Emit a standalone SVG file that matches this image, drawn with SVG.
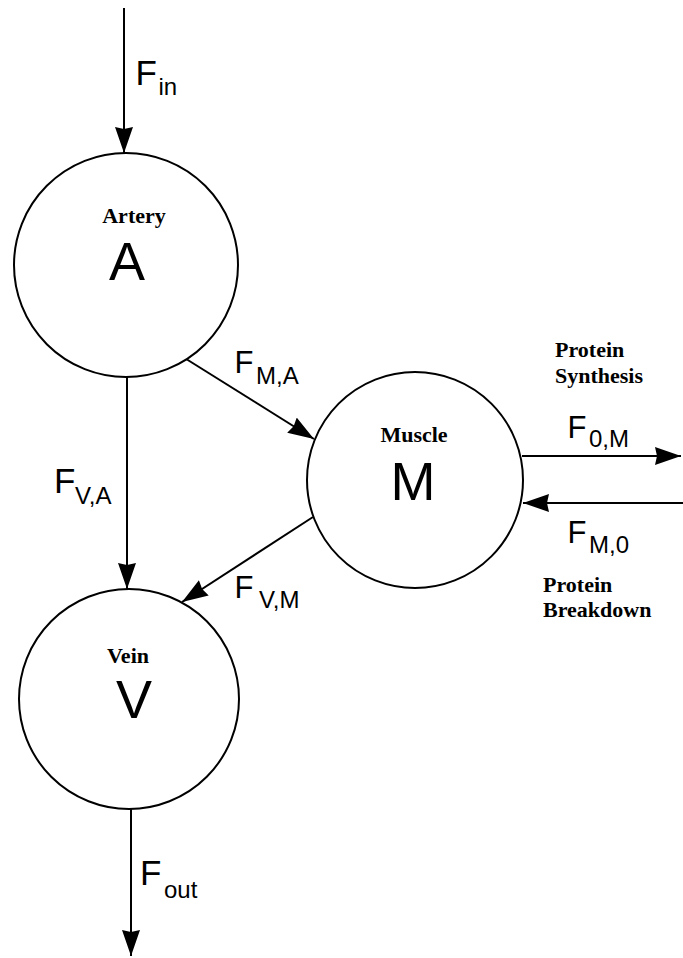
<svg xmlns="http://www.w3.org/2000/svg" width="683" height="958" viewBox="0 0 683 958">
<style>
.node{fill:#fff;stroke:#000;stroke-width:2}
.edge{stroke:#000;stroke-width:2;fill:none}
.name{font-family:"Liberation Serif",serif;font-weight:bold;font-size:22px;text-anchor:middle}
.big{font-family:"Liberation Sans",Arial,sans-serif;font-size:54px;text-anchor:middle}
.f{font-family:"Liberation Sans",Arial,sans-serif;font-size:31px}
.fl{font-family:"Liberation Sans",Arial,sans-serif;font-size:35px}
.sub{font-size:24px}
.note{font-family:"Liberation Serif",serif;font-weight:bold;font-size:22px}
</style>
<defs>
<marker id="arr" markerUnits="userSpaceOnUse" markerWidth="28" markerHeight="20" refX="26" refY="9" orient="auto">
<path d="M0,0 L26,9 L0,18 L2,9 Z" fill="#000"/>
</marker>
</defs>
<rect width="683" height="958" fill="#fff"/>
<g id="connectors">
<line class="edge" x1="124" y1="8" x2="124" y2="153" marker-end="url(#arr)"/>
<line class="edge" x1="127" y1="377" x2="127" y2="589" marker-end="url(#arr)"/>
<line class="edge" x1="183" y1="357" x2="314" y2="439" marker-end="url(#arr)"/>
<line class="edge" x1="313" y1="517" x2="182" y2="602" marker-end="url(#arr)"/>
<line class="edge" x1="522" y1="456" x2="681" y2="456" marker-end="url(#arr)"/>
<line class="edge" x1="683" y1="503" x2="523" y2="503" marker-end="url(#arr)"/>
<line class="edge" x1="131" y1="809" x2="131" y2="956" marker-end="url(#arr)"/>
<text class="fl" x="135.5" y="85">F<tspan class="sub" x="158.5" y="95">in</tspan></text>
<text class="f" x="234.5" y="373">F<tspan class="sub" x="256" y="384">M,A</tspan></text>
<text class="fl" x="54" y="493">F<tspan class="sub" x="75" y="504">V,A</tspan></text>
<text class="f" x="234.5" y="598">F<tspan class="sub" x="259" y="608">V,M</tspan></text>
<text class="f" x="567.5" y="438">F<tspan class="sub" x="589" y="447">0,M</tspan></text>
<text class="f" x="567.5" y="543">F<tspan class="sub" x="589" y="553">M,0</tspan></text>
<text class="fl" x="140" y="885">F<tspan class="sub" x="164" y="898">out</tspan></text>
<text class="note" x="555" y="357">Protein</text>
<text class="note" x="555" y="383">Synthesis</text>
<text class="note" x="543" y="592">Protein</text>
<text class="note" x="543" y="617">Breakdown</text>
</g>
<g id="artery">
<circle class="node" cx="126" cy="265" r="112"/>
<text class="name" x="134" y="223">Artery</text>
<text class="big" x="127" y="280">A</text>
</g>
<g id="muscle">
<circle class="node" cx="415" cy="480" r="108"/>
<text class="name" x="414" y="442">Muscle</text>
<text class="big" x="413" y="500">M</text>
</g>
<g id="vein">
<circle class="node" cx="129" cy="699" r="110"/>
<text class="name" x="128" y="663">Vein</text>
<text class="big" x="134" y="718">V</text>
</g>
</svg>
